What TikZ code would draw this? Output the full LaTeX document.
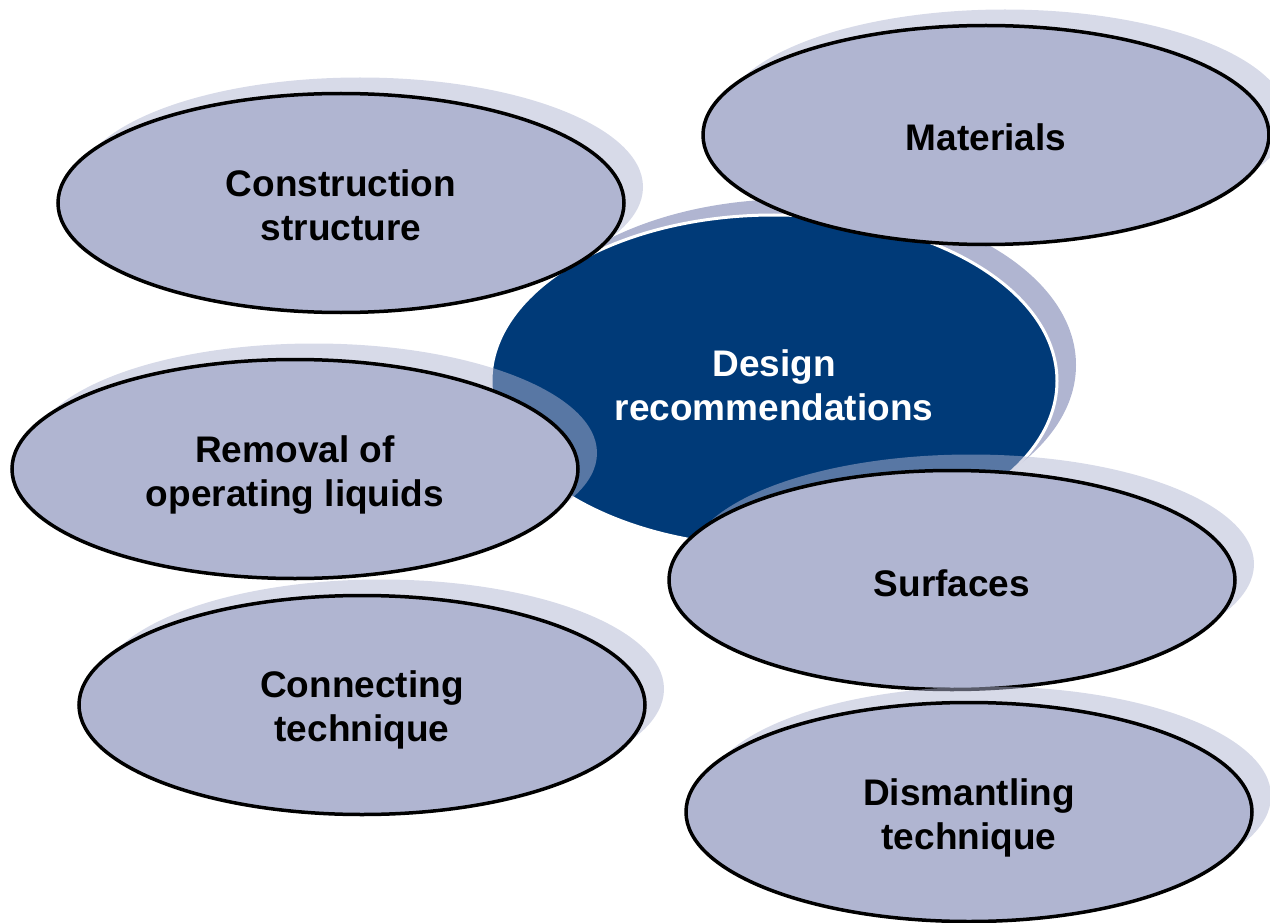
\documentclass[tikz,border=0pt]{standalone}
\usepackage{fontspec}
\setmainfont{Liberation Sans}
\usetikzlibrary{shapes.geometric,shadows}
\definecolor{lav}{RGB}{176,181,209}
\definecolor{navy}{RGB}{0,58,120}
\tikzset{
  topic/.style={ellipse, draw=black, line width=3.5pt, fill=lav,
    minimum width=566pt, minimum height=219pt, inner sep=0pt,
    drop shadow={shadow xshift=19pt, shadow yshift=16pt, fill=lav, opacity=0.5}},
  hub/.style={ellipse, draw=white, line width=3pt, fill=navy,
    minimum width=566pt, minimum height=332pt, inner sep=0pt,
    drop shadow={shadow xshift=19pt, shadow yshift=16pt, fill=lav, opacity=1}},
  caption/.style={align=center, inner sep=0pt,
    font=\fontsize{37}{44}\selectfont\bfseries, text=black},
}
\begin{document}
\begin{tikzpicture}[x=1pt,y=1pt]
  \useasboundingbox (0,0) rectangle (1270,-923);
  % central topic
  \node[hub] (design) at (774,-381) {};
  \node[caption, text=white] (design-t) at ([yshift=-4pt]design.center) {Design\\recommendations};
  % surrounding topics
  \node[topic] (construction) at (341,-203) {};
  \node[caption] (construction-t) at ([yshift=-2pt]construction.center) {Construction\\structure};
  \node[topic] (materials) at (986,-135) {};
  \node[caption] (materials-t) at ([yshift=-2pt]materials.center) {Materials};
  \node[topic] (removal) at (295,-469) {};
  \node[caption] (removal-t) at ([yshift=-6pt]removal.center) {Removal of\\operating liquids};
  \node[topic] (surfaces) at (952,-580) {};
  \node[caption] (surfaces-t) at ([yshift=-3pt]surfaces.center) {Surfaces};
  \node[topic] (connecting) at (362,-705) {};
  \node[caption] (connecting-t) at ([yshift=-5pt]connecting.center) {Connecting\\technique};
  \node[topic] (dismantling) at (969,-812) {};
  \node[caption] (dismantling-t) at ([yshift=-6pt]dismantling.center) {Dismantling\\technique};
\end{tikzpicture}
\end{document}
